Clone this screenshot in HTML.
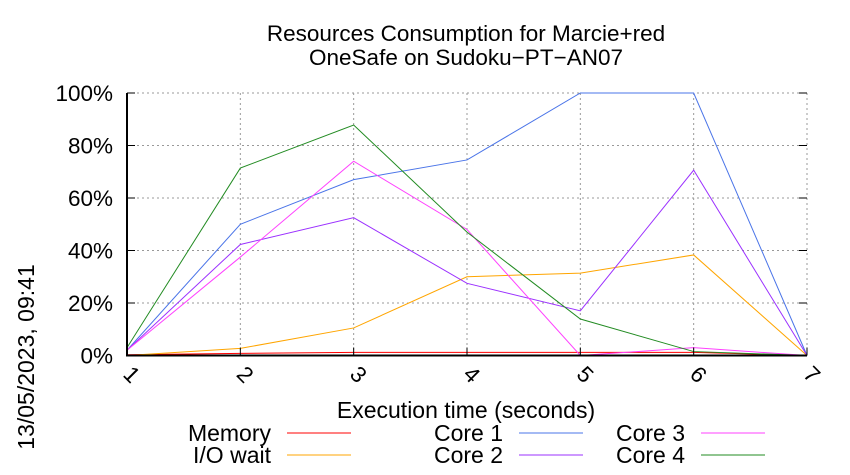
<!DOCTYPE html>
<html><head><meta charset="utf-8"><style>body{margin:0;background:#fff}svg{display:block;font-family:"Liberation Sans",sans-serif}</style></head>
<body>
<svg width="850" height="475">
<g id="grid"></g>
<g id="series"></g>
<g id="axes"></g>
<text x="466" y="41" font-size="22.5" text-anchor="middle">Resources Consumption for Marcie+red</text>
<text x="466" y="65" font-size="22.5" text-anchor="middle">OneSafe on Sudoku−PT−AN07</text>
<text x="466" y="418" font-size="23" text-anchor="middle">Execution time (seconds)</text>
<text transform="translate(34,357) rotate(-90)" font-size="23" text-anchor="middle">13/05/2023, 09:41</text>
<g id="legend"></g>
</svg>
<script>
const xTicks=[1,2,3,4,5,6,7];
const yTicks=[0,20,40,60,80,100];
const seriesNames=["Memory","I/O wait","Core 1","Core 2","Core 3","Core 4"];
const seriesColors=["#ff0000","#ffa500","#4a74e8","#9b30ff","#ff40ff","#228b22"];
const memory=[0.3,0.8,1.2,1.2,1.2,1.2,0];
const ioWait=[0,2.7,10.5,30,31.4,38.3,0];
const core1=[2,50,67,74.5,100,100,0];
const core2=[2,42.3,52.5,27.5,17,70.6,0];
const core3=[2,37.5,74,48,0,3,0];
const core4=[3,71.4,87.8,47,13.9,1.5,0];
const allSeries=[memory,ioWait,core1,core2,core3,core4];
const NS="http://www.w3.org/2000/svg";
const L=127,R=807,T=93,B=355.5;
const xs=v=>L+(v-1)*(R-L)/6;
const ys=v=>B-v*(B-T)/100;
function mk(tag,attrs,parent){const e=document.createElementNS(NS,tag);for(const k in attrs)e.setAttribute(k,attrs[k]);parent.appendChild(e);return e;}
const grid=document.getElementById('grid'),axes=document.getElementById('axes'),ser=document.getElementById('series'),leg=document.getElementById('legend');
yTicks.forEach(t=>{const y=ys(t);
 const g=mk('line',{x1:L,x2:R,y1:y,y2:y,stroke:'#999','stroke-dasharray':'2,3','stroke-width':1},grid);
 
 
 const tx=mk('text',{x:113,y:y+8,'font-size':22.5,'text-anchor':'end'},axes);tx.textContent=t+'%';
 
 
 const tk=mk('line',{x1:L,x2:L+8,y1:y,y2:y,stroke:'#000'},axes);
 
 
 const tk2=mk('line',{x1:R-8,x2:R,y1:y,y2:y,stroke:'#000'},axes);
 
 
});
xTicks.forEach(t=>{const x=xs(t);
 const g=mk('line',{x1:x,x2:x,y1:T,y2:B,stroke:'#999','stroke-dasharray':'2,3','stroke-width':1},grid);
 
 
 const tk=mk('line',{x1:x,x2:x,y1:B-8,y2:B,stroke:'#000'},axes);
 
 
 const tx=mk('text',{transform:`translate(${x-5},${B+20}) rotate(45)`,'font-size':22.5},axes);tx.textContent=t;
 
 
});
const ax=mk('path',{d:`M${L},${T}V${B}H${R}`,stroke:'#000','stroke-width':2,fill:'none'},axes);


allSeries.forEach((d,i)=>{
 const p=mk('polyline',{points:d.map((v,j)=>xs(xTicks[j])+','+ys(v)).join(' '),fill:'none',stroke:seriesColors[i],'stroke-width':1},ser);
 
 
});
const legPos=[[271,433],[271,455],[503,433],[503,455],[685,433],[685,455]];
seriesNames.forEach((n,i)=>{const [x,y]=legPos[i];
 const t=mk('text',{x:x,y:y+8,'font-size':23,'text-anchor':'end'},leg);t.textContent=n;
 
 
 const l=mk('line',{x1:x+16,x2:x+80,y1:y,y2:y,stroke:seriesColors[i]},leg);
 
 
});
</script>
</body></html>
